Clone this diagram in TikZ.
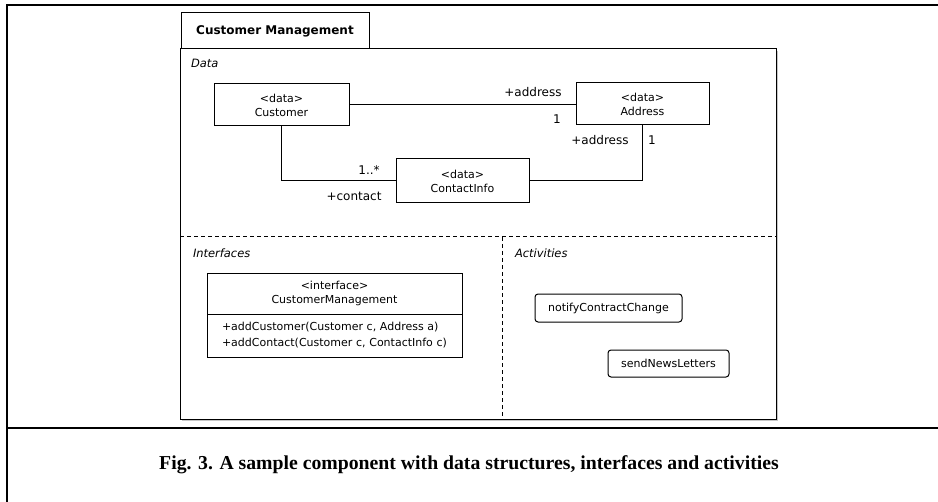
\documentclass[tikz,border=0pt]{standalone}
\usepackage{fontspec}
\usetikzlibrary{positioning}
\newfontfamily\umlfont{DejaVu Sans}
\newfontfamily\capfont{Liberation Serif}
\newcommand{\px}{0.75pt}

\begin{document}
\begin{tikzpicture}[x=0.75pt, y=-0.75pt,
    every node/.style={inner sep=0pt, outer sep=0pt},
    frame/.style={draw=black, line width=2*\px},
    comp/.style={draw=black, line width=\px},
    part/.style={draw=black, line width=\px, dash pattern=on 4*\px off 3*\px},
    cls/.style={draw=black, line width=\px, fill=white, align=center,
                font=\umlfont\fontsize{8.25}{10.5}\selectfont},
    act/.style={draw=black, line width=\px, rounded corners=3*\px, fill=white,
                font=\umlfont\fontsize{8.25}{10}\selectfont},
    role/.style={font=\umlfont\fontsize{9}{10}\selectfont},
    partname/.style={anchor=west, font=\umlfont\itshape\fontsize{8.6}{10}\selectfont},
    assoc/.style={draw=black, line width=\px},
]
    \useasboundingbox (0,0) rectangle (938,502);

    % Outer page frame
    \draw[frame] (7,502) -- (7,5.5) -- (938,5.5);
    \draw[frame] (7,428) -- (938,428);

    % Component frame with tab
    \draw[gray!45, line width=\px] (182,420.5) -- (777.5,420.5) -- (777.5,51);
    \draw[comp] (180,49) rectangle (776,419);
    \node[comp, minimum width=188*\px, minimum height=36*\px,
          font=\umlfont\bfseries\fontsize{9}{10}\selectfont] (tab) at (275,31) {Customer Management};

    % Parts
    \draw[part] (180,237) -- (776,237);
    \draw[part] (502,237) -- (502,419);
    \node[partname] (datalbl) at (191,63) {Data};
    \node[partname] (ifacelbl) at (193,253) {Interfaces};
    \node[partname] (actlbl) at (515,253) {Activities};

    % Data classes
    \node[cls, minimum width=135*\px, minimum height=42*\px] (customer) at (281.5,105) {<data>\\Customer};
    \node[cls, minimum width=133*\px, minimum height=42*\px] (address) at (642.5,104) {<data>\\Address};
    \node[cls, minimum width=133*\px, minimum height=44*\px] (contact) at (462.5,181) {<data>\\ContactInfo};

    % Associations
    \draw[assoc] (customer.east) -- (customer.east -| address.west);
    \draw[assoc] (customer.south) |- (contact.west);
    \draw[assoc] (contact.east) -| (address.south);

    % Association ends
    \node[role] (r1) at (533,92) {+address};
    \node[role] (m1) at (557,119) {1};
    \node[role] (r2) at (600,140) {+address};
    \node[role] (m2) at (652,140) {1};
    \node[role] (m3) at (369,170) {1..*};
    \node[role] (r3) at (354,196) {+contact};

    % Interface
    \node[cls, minimum width=255*\px, minimum height=41*\px] (iface) at (334.5,293.5) {<interface>\\CustomerManagement};
    \node[cls, below=0pt of iface, minimum height=43*\px, text width=225*\px,
          inner xsep=15*\px, align=left,
          font=\umlfont\fontsize{8.25}{12}\selectfont] (ifaceops)
        {+addCustomer(Customer c, Address a)\\+addContact(Customer c, ContactInfo c)};

    % Activities
    \node[act, minimum width=147*\px, minimum height=28*\px] (notify) at (608.5,308) {notifyContractChange};
    \node[act, minimum width=121*\px, minimum height=27*\px] (news) at (668.5,363.5) {sendNewsLetters};

    % Caption
    \node[font=\capfont\bfseries\fontsize{14.8}{16}\selectfont] (caption) at (469,465)
        {Fig. 3. A sample component with data structures, interfaces and activities};
\end{tikzpicture}
\end{document}
